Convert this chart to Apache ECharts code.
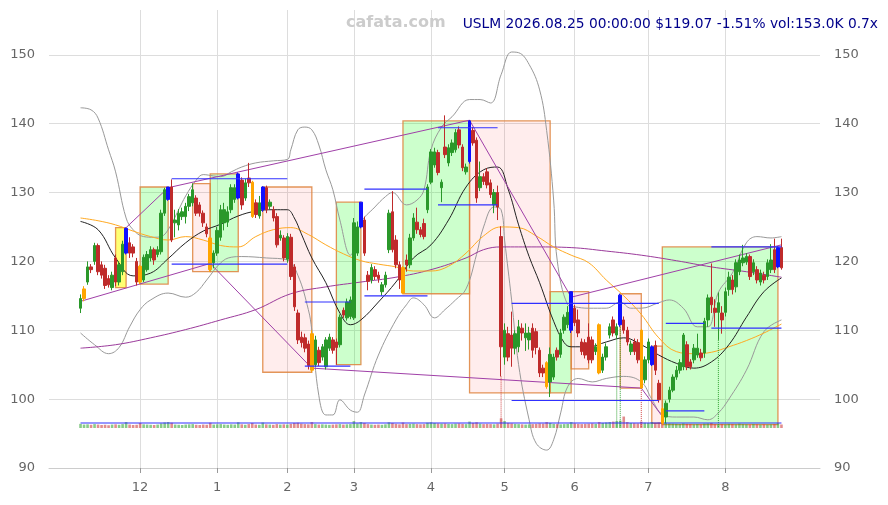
<!DOCTYPE html>
<html><head><meta charset="utf-8">
<script src="https://cdn.jsdelivr.net/npm/echarts@6/dist/echarts.min.js"></script>
<style>html,body{margin:0;padding:0;background:#fff}#c{width:888px;height:505px}</style>
</head><body><div id="c"></div>
<script>
// ---------- data ----------
const holidays=['2025-11-27','2025-12-25','2026-01-01','2026-01-19','2026-02-16','2026-04-03','2026-05-25','2026-06-19','2026-07-03'];
const titleText='USLM 2026.08.25 00:00:00 $119.07 -1.51% vol:153.0K 0.7x';
const watermark='cafata.com';
const yTicks=[90,100,110,120,130,140,150];
// [open, close, low, high]
const candles=[
[113.2,114.6,112.5,115.2],[114.6,116.0,114.2,116.4],[117.0,119.2,116.6,120.0],[119.2,118.8,118.3,119.6],[120.0,122.3,119.5,122.7],
[122.3,118.5,118.0,122.6],[119.5,118.0,117.5,120.0],[119.0,116.5,116.0,119.5],[117.5,116.6,116.2,118.0],[116.2,118.0,115.8,118.5],
[120.5,117.0,116.4,121.0],[117.0,119.5,116.5,120.0],[118.5,122.5,118.0,123.0],[121.2,124.8,121.0,124.9],[122.7,121.2,120.5,123.5],
[122.1,121.2,120.6,122.5],[120.0,117.0,116.5,120.5],[119.3,117.0,116.7,119.5],[117.3,120.6,117.0,121.0],[118.8,121.0,118.5,121.5],
[120.5,121.7,120.0,122.2],[121.7,120.2,119.5,122.0],[121.0,121.7,120.6,122.2],[121.4,127.0,121.0,127.5],[127.0,130.4,126.6,130.7],
[129.0,130.8,128.8,130.8],[130.8,123.1,122.8,131.9],[125.6,126.0,123.5,127.5],[125.3,127.0,124.5,127.6],[126.5,127.2,126.0,127.8],
[126.5,128.0,125.5,128.5],[128.0,129.4,127.3,129.8],[128.5,130.4,128.0,131.3],[129.2,127.0,126.6,129.6],[128.2,127.0,126.5,128.6],
[127.0,125.6,125.0,127.4],[125.0,124.0,123.5,125.5],[123.4,118.8,118.5,123.6],[119.8,121.2,119.0,121.6],[121.2,124.5,120.8,125.0],
[123.5,127.5,123.0,128.2],[125.6,127.5,124.5,128.5],[125.7,127.2,125.0,128.0],[127.5,130.7,127.0,131.2],[129.0,130.7,128.5,131.2],
[129.2,132.7,129.0,132.9],[131.8,128.2,127.5,132.2],[129.2,131.4,128.8,132.0],[132.1,131.4,130.8,134.3],[131.5,126.5,126.3,131.7],
[128.5,126.8,126.3,129.0],[126.6,128.5,126.2,129.5],[127.5,130.8,127.2,130.9],[130.7,127.5,127.0,131.0],[128.0,128.6,127.6,129.0],
[127.5,126.3,125.8,128.0],[126.5,122.4,122.0,127.0],[123.4,123.8,123.0,124.5],[123.4,120.5,120.0,123.8],[120.3,123.6,119.8,124.1],
[123.5,117.8,117.3,124.0],[119.2,113.4,112.8,119.6],[112.5,108.6,108.0,113.0],[109.0,108.2,107.5,109.8],[108.9,107.4,106.8,109.5],
[108.0,104.9,104.3,108.5],[109.5,104.2,103.9,110.0],[105.0,108.6,104.7,109.2],[107.1,105.3,104.8,107.6],[106.1,107.6,105.6,108.0],
[104.7,108.6,104.3,109.0],[107.4,109.0,107.0,109.5],[108.6,107.1,106.6,109.0],[108.3,107.5,105.0,108.8],[107.9,111.9,107.5,112.3],
[112.9,112.2,111.8,113.3],[111.8,114.1,111.4,114.6],[112.0,114.4,111.6,114.9],[111.8,125.6,111.5,126.3],[121.2,125.0,120.8,125.8],
[125.0,128.6,124.8,128.6],[126.0,121.2,120.8,126.5],[118.0,117.1,115.8,118.6],[117.3,119.1,116.8,119.6],[118.8,117.8,117.3,119.3],
[118.0,117.5,116.9,118.5],[115.6,116.6,115.0,117.0],[116.6,118.0,116.2,118.5],[121.7,127.0,121.2,127.5],[127.2,121.7,121.3,130.2],
[123.1,119.5,119.0,123.8],[119.5,117.3,116.0,120.0],[119.1,115.4,115.3,119.3],[120.2,119.5,118.5,121.0],[119.5,123.4,119.0,124.0],
[123.4,126.3,123.0,127.0],[125.7,124.6,124.0,127.8],[124.6,123.9,123.5,125.0],[125.5,123.6,123.2,126.2],[127.5,130.8,127.0,131.2],
[131.5,135.9,131.2,136.3],[134.0,135.9,133.6,136.5],[135.8,132.9,132.5,136.2],[130.7,131.5,128.6,131.9],[136.6,135.5,135.0,141.2],
[134.3,136.5,133.8,137.0],[135.8,137.2,135.3,137.7],[136.2,138.7,135.8,139.2],[139.1,136.9,136.4,139.6],[136.6,133.6,133.1,137.0],
[133.0,133.7,132.6,134.2],[134.5,140.4,134.2,140.5],[139.0,137.2,136.8,139.5],[137.6,129.2,128.5,138.0],[130.7,132.3,130.2,134.5],
[132.3,131.6,131.1,132.8],[133.0,131.1,130.6,133.5],[131.4,129.7,129.2,131.9],[128.2,130.0,127.0,130.5],[130.0,127.9,126.0,131.0],
[123.6,107.6,103.3,125.1],[106.1,110.0,105.0,111.0],[109.5,106.1,105.5,110.5],[109.3,107.4,104.7,112.7],[107.4,109.5,106.5,110.0],
[107.6,110.5,106.8,111.5],[110.3,109.6,108.5,111.0],[108.9,109.6,107.0,111.0],[108.6,109.6,107.2,110.5],[110.3,107.1,106.0,111.0],
[109.8,107.5,106.5,110.3],[107.1,103.8,103.2,107.5],[104.5,103.8,103.2,105.0],[105.3,101.8,101.5,105.5],[102.5,106.5,100.3,107.5],
[103.2,106.1,102.8,106.6],[107.1,106.1,105.6,107.5],[106.5,109.6,106.0,110.2],[110.0,111.9,109.5,112.3],[110.8,112.6,110.3,113.5],
[110.0,115.6,109.6,115.6],[113.2,111.1,110.6,113.7],[111.5,109.6,109.0,113.0],[108.3,106.9,106.4,108.8],[108.2,106.4,105.9,108.7],
[109.0,105.7,105.2,111.0],[108.6,105.7,105.2,109.1],[106.9,107.6,106.4,108.1],[110.8,103.8,103.6,111.0],[104.2,106.1,103.8,106.6],
[106.1,107.6,105.6,108.1],[109.3,110.5,108.8,111.0],[111.5,109.6,109.1,112.0],[109.3,110.5,108.8,111.0],[110.8,115.1,110.5,115.3],
[111.5,110.0,109.5,112.0],[110.0,108.3,107.8,110.5],[106.9,108.0,106.4,108.5],[108.3,106.9,106.4,108.8],[108.2,105.7,105.2,108.7],
[110.0,101.6,101.6,110.2],[102.8,105.7,102.3,106.2],[105.7,108.3,105.2,108.8],[105.0,107.6,104.8,107.8],[107.8,104.2,103.5,108.5],
[102.3,99.9,99.5,102.8],[98.6,96.5,96.3,98.8],[97.4,99.4,96.5,99.8],[100.0,101.3,99.5,101.8],[101.3,103.2,101.0,103.6],
[103.2,104.2,102.8,104.8],[104.2,105.3,103.7,105.8],[104.7,109.3,104.2,109.6],[107.9,104.7,104.2,108.4],[105.4,104.7,104.3,105.8],
[105.7,107.4,105.2,108.0],[106.4,107.4,106.0,109.5],[106.7,106.0,105.5,107.3],[106.7,111.3,106.0,111.8],[111.5,114.7,110.5,115.2],
[114.8,113.7,112.5,119.7],[113.2,112.6,110.5,114.5],[112.6,114.0,108.6,115.5],[112.5,111.5,109.5,113.5],[112.6,115.6,112.0,116.2],
[115.9,117.7,115.0,118.5],[117.3,115.9,115.2,118.0],[116.3,119.8,115.5,120.3],[118.5,120.2,118.0,121.0],[119.8,120.5,119.3,122.4],
[119.9,120.7,119.5,121.2],[120.7,117.8,117.3,121.0],[118.5,119.8,118.0,120.3],[118.8,117.3,116.8,119.3],[117.0,118.3,116.5,118.8],
[118.0,117.3,116.8,118.5],[117.8,119.8,117.3,120.3],[118.8,120.2,118.3,122.5],[121.7,118.8,118.3,123.3],[119.2,122.0,119.0,122.2],
[122.0,119.07,118.8,123.3]
];
const blueIdx=[13,25,45,52,80,111,140,154,163,199];
const orangeIdx=[1,17,37,49,66,92,133,148,160,166];
// volume in thousands
const volumes=[
180,150,160,140,170,150,130,140,120,150,160,140,170,260,150,130,140,220,160,150,
140,130,150,200,240,260,230,150,140,130,150,160,170,140,130,150,140,230,150,160,
170,150,140,160,150,250,160,140,170,220,150,140,240,160,150,140,170,150,160,150,
180,220,230,190,170,160,260,170,150,160,150,140,150,160,170,150,160,170,300,200,
260,220,170,150,140,150,140,160,250,220,180,160,240,170,180,190,170,160,170,230,
250,220,200,190,200,180,170,190,200,180,170,280,220,250,190,170,180,170,160,190,
420,300,220,200,180,170,160,150,160,170,180,200,190,260,220,180,170,160,170,180,
260,200,180,170,180,190,200,180,260,220,240,260,280,300,320,500,260,220,210,200,
280,230,220,260,220,240,300,230,200,190,180,170,200,180,170,160,170,160,190,200,
220,170,160,170,160,180,170,160,190,170,160,150,170,160,150,160,150,160,170,200,153
];
const avgVolume=218;
// indicator samples: [dayIndex, value]
const ma20=[[0,125.8],[5,124.6],[10,120.5],[15,117.9],[20,118.3],[25,120.4],[30,122.7],[35,124.4],[40,125.4],[45,126.6],[50,127.3],[55,127.5],[59,127.5],[61,126.3],[63,124.0],[66,120.5],[70,116.9],[74,112.5],[77,110.8],[80,111.5],[85,114.1],[90,117.0],[95,120.5],[100,122.4],[105,126.0],[110,130.8],[115,133.3],[119,133.7],[122,130.5],[125,125.3],[128,120.7],[131,116.9],[135,111.3],[138,108.2],[140,107.6],[145,107.6],[150,108.3],[155,108.9],[160,107.9],[165,106.4],[170,105.2],[175,104.5],[180,105.4],[185,107.9],[190,111.9],[195,115.6],[200,117.6]];
const ma50=[[0,126.3],[5,125.9],[10,125.3],[15,124.4],[20,123.6],[25,123.1],[30,123.6],[35,123.1],[40,122.3],[45,122.1],[50,123.6],[55,124.6],[60,124.9],[65,123.9],[70,122.4],[75,121.1],[80,120.1],[85,119.6],[90,119.2],[95,118.6],[100,118.6],[105,119.3],[110,121.2],[115,123.7],[120,125.0],[125,124.9],[130,123.7],[135,122.1],[140,120.9],[145,119.8],[150,117.3],[155,115.0],[160,112.3],[165,108.9],[170,106.9],[175,106.6],[180,106.8],[185,107.6],[190,108.5],[195,109.6],[200,110.9]];
const bbUpper=[[0,142.3],[3,142.0],[5,140.8],[8,136.2],[10,133.0],[13,126.3],[15,124.6],[18,123.6],[21,123.5],[23,123.6],[25,124.6],[28,127.5],[30,129.5],[33,131.8],[35,132.6],[38,132.4],[40,132.3],[43,133.0],[46,133.7],[50,134.3],[55,134.6],[59,134.8],[60,136.2],[62,139.1],[64,139.5],[66,139.1],[68,136.9],[70,133.3],[72,130.4],[74,126.0],[77,120.9],[80,125.6],[84,127.9],[87,129.4],[89,130.0],[93,128.2],[96,128.9],[98,130.4],[100,136.2],[103,139.5],[106,141.0],[111,143.5],[114,143.5],[117,143.0],[120,147.1],[123,150.4],[125,150.3],[128,148.6],[131,144.9],[133,139.0],[135,128.9],[136,120.2],[139,113.7],[141,113.4],[145,113.2],[150,113.2],[154,114.1],[157,113.2],[160,113.2],[165,114.0],[168,114.4],[172,113.2],[176,110.5],[179,110.5],[182,115.5],[186,118.3],[190,122.7],[193,123.6],[197,123.4],[200,123.6]];
const bbLower=[[0,109.6],[4,107.9],[8,106.6],[11,107.5],[14,110.5],[17,113.0],[20,114.4],[25,115.4],[30,114.8],[33,115.5],[36,117.3],[40,119.8],[43,120.6],[46,120.7],[53,120.5],[59,120.2],[62,118.0],[65,113.0],[66,110.0],[68,100.5],[70,97.7],[72,97.7],[74,99.9],[77,98.4],[79,98.1],[81,100.6],[85,106.4],[90,111.5],[93,113.7],[95,114.7],[98,113.7],[101,111.8],[104,113.0],[107,114.4],[110,116.0],[113,121.0],[115,125.0],[118,127.9],[120,127.5],[121,123.1],[123,114.4],[125,105.0],[128,97.0],[130,93.6],[133,92.6],[135,94.1],[137,98.0],[139,101.8],[142,103.0],[146,102.5],[150,103.0],[155,103.3],[160,102.5],[163,100.0],[166,97.8],[170,97.4],[175,97.4],[179,97.0],[182,98.0],[185,100.0],[190,104.2],[195,109.8],[200,111.5]];
const maLong=[[0,107.4],[10,107.9],[20,108.9],[30,110.1],[40,111.5],[50,113.0],[60,115.3],[70,116.3],[80,117.0],[90,117.7],[100,118.8],[110,120.5],[115,121.7],[120,122.1],[130,122.1],[140,122.0],[150,121.5],[160,120.9],[170,120.1],[180,119.2],[190,118.5],[200,117.7]];
// trend lines [day1, price1, day2, price2]
const trendLines=[[0,114.2,37,119.7],[13,124.9,25,130.7],[25,130.7,111,140.5],[111,140.5,140,114.8],[140,114.8,200,122.4],[37,119.7,66,104.5],[66,104.5,160,101.6],[160,101.6,166,97.5]];
// price levels [day1, day2, price]
const levels=[[26,59,132.0],[26,59,119.6],[64,77,114.1],[64,77,104.8],[81,99,130.5],[81,99,115.0],[102,119,139.4],[102,119,128.2],[123,165,113.9],[123,165,99.8],[167,178,111.0],[167,178,98.3],[180,200,110.3],[180,200,122.1]];
// boxes [day1, day2, low, high, kind]
const boxes=[[10,13,116.2,124.9,'y'],[17,25,116.7,130.8,'g'],[32,37,118.5,131.3,'r'],[37,45,118.5,132.7,'g'],[52,66,103.9,130.8,'r'],[73,80,105.0,128.6,'g'],[92,111,115.3,140.4,'g'],[111,134,100.9,140.4,'r'],[134,140,100.9,115.6,'g'],[140,145,104.4,115.6,'r'],[154,160,101.6,115.3,'r'],[163,166,96.5,107.7,'r'],[166,199,96.3,122.1,'g']];
// dotted volume markers [day, kind]
const volMarkers=[[120,'r'],[153,'g'],[154,'g'],[160,'r'],[182,'g']];

// ---------- build ----------
const dates=[];
for(let t=Date.UTC(2025,10,5);t<=Date.UTC(2026,7,25);t+=86400000){
  const d=new Date(t),wd=d.getUTCDay();
  if(wd===0||wd===6)continue;
  const s=d.toISOString().slice(0,10);
  if(holidays.includes(s))continue;
  dates.push(s);
}
const PAD_L=9,PAD_R=11;
const cats=[];
for(let i=0;i<PAD_L;i++)cats.push('padL'+i);
dates.forEach(d=>cats.push(d));
for(let i=0;i<PAD_R;i++)cats.push('padR'+i);
const monthStart=new Set();
for(let k=1;k<dates.length;k++){if(dates[k].slice(5,7)!==dates[k-1].slice(5,7))monthStart.add(k+PAD_L);}
const isMonth=(idx)=>monthStart.has(idx);

const UP='#2a982a',DOWN='#bf2b2b',BLUE='#1010ff',ORANGE='#ffa500';
const candleData=candles.map((r,i)=>{
  const it={value:[dates[i],r[0],r[1],r[2],r[3]]};
  let c=null;
  if(blueIdx.includes(i))c=BLUE; else if(orangeIdx.includes(i))c=ORANGE;
  if(c)it.itemStyle={color:c,color0:c,borderColor:c,borderColor0:c};
  return it;
});
const boxFill={g:'rgba(0,255,0,0.2)',r:'rgba(255,0,0,0.07)',y:'rgba(255,255,0,0.55)'};
const areaData=boxes.map(b=>[{xAxis:dates[b[0]],yAxis:b[2],itemStyle:{color:boxFill[b[4]],borderColor:'rgba(222,130,60,0.85)',borderWidth:1.3}},{xAxis:dates[b[1]],yAxis:b[3]}]);
const toLine=arr=>arr.map(p=>[dates[p[0]],p[1]]);
const series=[];
series.push({type:'line',name:'bbU',data:toLine(bbUpper),smooth:0.4,symbol:'none',lineStyle:{color:'#999',width:1},z:1,
  markArea:{silent:true,data:areaData}});
series.push({type:'line',data:toLine(bbLower),smooth:0.4,symbol:'none',lineStyle:{color:'#999',width:1},z:2});
series.push({type:'line',data:toLine(maLong),smooth:0.4,symbol:'none',lineStyle:{color:'#9b3a9b',width:1},z:2});
series.push({type:'line',data:toLine(ma50),smooth:0.4,symbol:'none',lineStyle:{color:'#ffaa22',width:1},z:2});
series.push({type:'line',data:toLine(ma20),smooth:0.4,symbol:'none',lineStyle:{color:'#222',width:1},z:2});
trendLines.forEach(t=>series.push({type:'line',data:[[dates[t[0]],t[1]],[dates[t[2]],t[3]]],symbol:'none',lineStyle:{color:'#a040a8',width:1},z:2}));
series.push({type:'candlestick',data:candleData,encode:{x:0,y:[1,2,3,4]},barWidth:3,z:4,
  itemStyle:{color:UP,color0:DOWN,borderColor:UP,borderColor0:DOWN,borderWidth:1}});
levels.forEach(l=>series.push({type:'line',data:[[dates[l[0]],l[2]],[dates[l[1]],l[2]]],symbol:'none',lineStyle:{color:'#3030ff',width:1.2},z:5}));
volMarkers.forEach(m=>series.push({type:'line',data:[[dates[m[0]],candles[m[0]][2]],[dates[m[0]],95.9]],symbol:'none',
  lineStyle:{color:m[1]==='r'?'#d04040':'#30a030',width:1,type:'dotted'},z:3}));
series.push({type:'bar',xAxisIndex:1,yAxisIndex:2,barWidth:2.6,z:3,
  data:volumes.map((v,i)=>({value:[dates[i],v],itemStyle:{color:candles[i][1]>=candles[i][0]?'rgba(40,160,40,0.55)':'rgba(200,50,50,0.55)'}}))});
series.push({type:'line',xAxisIndex:1,yAxisIndex:2,data:[[dates[0],avgVolume],[dates[dates.length-1],avgVolume]],symbol:'none',lineStyle:{color:'#3030ff',width:1.2},z:4});

const lblFmt=v=>(yTicks.includes(v)?String(v):'');
const option={
  animation:false,
  backgroundColor:'#fff',
  title:[
    {text:watermark,left:346,top:15,padding:0,textStyle:{fontFamily:'DejaVu Sans',fontSize:16,fontWeight:'bold',color:'#cccccc'}},
    {text:titleText,right:10,top:17,padding:0,textStyle:{fontFamily:'DejaVu Sans',fontSize:13.8,fontWeight:'normal',color:'#00008b'}}
  ],
  grid:[{left:49,right:68,top:10,bottom:37},{left:49,right:68,top:400,bottom:77}],
  xAxis:[
    {type:'category',data:cats,boundaryGap:false,gridIndex:0,
     axisLine:{lineStyle:{color:'#cccccc'}},
     axisTick:{interval:isMonth,length:5,lineStyle:{color:'#999'}},
     axisLabel:{interval:isMonth,formatter:v=>(v.startsWith('pad')?'':String(parseInt(v.slice(5,7),10))),color:'#666',fontSize:13,fontFamily:'DejaVu Sans',margin:13},
     splitLine:{show:true,interval:isMonth,lineStyle:{color:'#dddddd'}}},
    {type:'category',data:cats,boundaryGap:false,gridIndex:1,show:false}
  ],
  yAxis:[
    {type:'value',gridIndex:0,min:90,max:156.5,interval:10,position:'left',
     axisLine:{show:false},axisTick:{show:false},
     axisLabel:{formatter:lblFmt,color:'#666',fontSize:13,fontFamily:'DejaVu Sans',margin:14},
     splitLine:{show:true,showMaxLine:false,lineStyle:{color:'#dddddd'}}},
    {type:'value',gridIndex:0,min:90,max:156.5,interval:10,position:'right',
     axisLine:{show:false},axisTick:{show:false},
     axisLabel:{formatter:lblFmt,color:'#666',fontSize:13,fontFamily:'DejaVu Sans',margin:14},
     splitLine:{show:false}},
    {type:'value',gridIndex:1,min:0,max:1220,show:false,splitLine:{show:false}}
  ],
  series:series
};
const chart=echarts.init(document.getElementById('c'),null,{renderer:'canvas'});
chart.setOption(option);
</script>
</body></html>
